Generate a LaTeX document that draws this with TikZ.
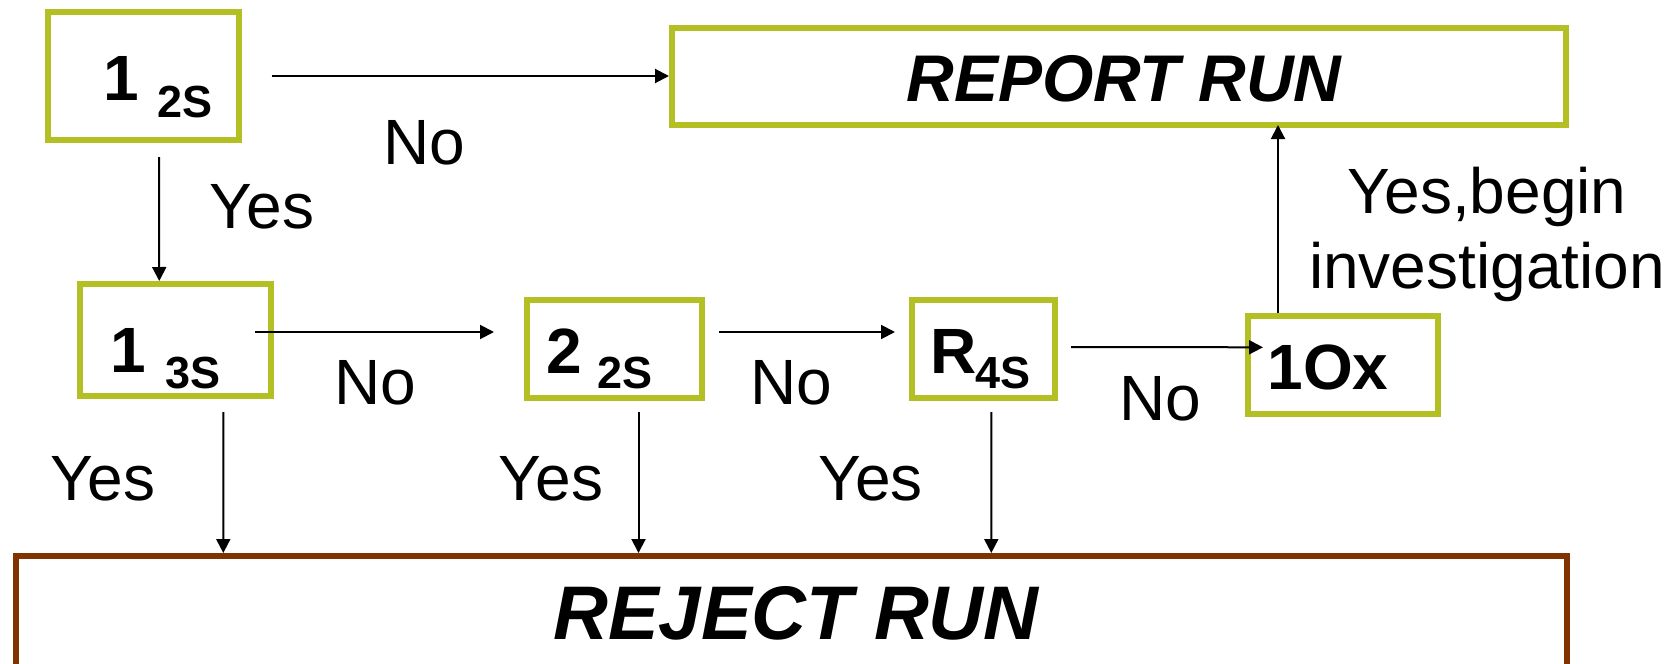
\documentclass[tikz,border=0pt]{standalone}
\usepackage{fontspec}
\setmainfont{Liberation Sans}
\usetikzlibrary{arrows.meta}
\definecolor{boxgreen}{RGB}{179,191,34}
\definecolor{rejbrown}{RGB}{128,51,0}
\begin{document}
\begin{tikzpicture}[x=1pt,y=-1pt,
  gbox/.style={draw=boxgreen,line width=6pt,inner sep=0pt},
  rbox/.style={draw=rejbrown,line width=6pt,inner sep=0pt},
  lbl/.style={font=\fontsize{64}{75}\selectfont,inner sep=0pt,anchor=base},
  bignum/.style={font=\fontsize{64}{64}\selectfont\bfseries,inner sep=0pt,anchor=base},
  subnum/.style={font=\fontsize{45}{45}\selectfont\bfseries,inner sep=0pt,anchor=base},
  verdict/.style={font=\fontsize{#1}{#1}\selectfont\bfseries\itshape,inner sep=0pt,anchor=base},
  arr/.style={-{Triangle[length=14pt,width=14pt]},line width=2pt}]
\useasboundingbox (0,0) rectangle (1674,664);
\clip (0,0) rectangle (1674,664);

% rule boxes
\node[gbox,minimum width=191pt,minimum height=128pt] (a) at (143,76) {};
\node[gbox,minimum width=894pt,minimum height=97pt] (rep) at (1119,76.5) {};
\node[gbox,minimum width=191.5pt,minimum height=112pt] (b) at (175.25,340) {};
\node[gbox,minimum width=175pt,minimum height=98pt] (c) at (614.5,349) {};
\node[gbox,minimum width=142.5pt,minimum height=98pt] (d) at (983.25,349) {};
\node[gbox,minimum width=189.6pt,minimum height=97.7pt] (e) at (1342.8,364.8) {};
\node[rbox,minimum width=1551.4pt,minimum height=300pt] (rej) at (791.3,706) {};

% box texts
\node[bignum] (a1) at (121,100) {1};
\node[subnum] (a2) at (185,117) {2S};
\node[bignum] (b1) at (128.5,372.7) {1};
\node[subnum] (b2) at (193,388) {3S};
\node[bignum] (c1) at (564,373) {2};
\node[subnum] (c2) at (625,388) {2S};
\node[bignum] (d1) at (954,373) {R};
\node[subnum] (d2) at (1003,388) {4S};
\node[bignum] (e1) at (1328,389.3) {1Ox};
\node[verdict=66] (rept) at (1124,101) {REPORT RUN};
\node[verdict=76] (rejt) at (796,639) {REJECT RUN};

% connectors
\draw[arr] ([xshift=30pt]a.east) -- (a.east -| rep.west);
\draw[arr] ([xshift=16pt,yshift=-14pt]a.south) -- ([xshift=-16pt]b.north);
\draw[arr] ([xshift=-19pt,yshift=8pt]b.east) -- ([xshift=-30pt,yshift=17pt]c.west);
\draw[arr] ([xshift=14pt,yshift=17pt]c.east) -- ([xshift=-14pt,yshift=17pt]d.west);
\draw[arr] ([xshift=13.5pt,yshift=2pt]d.east) -- ([xshift=18pt,yshift=17.5pt]e.west);
\draw[arr] ([xshift=-64.8pt]e.north) -- ([xshift=159pt,yshift=3pt]rep.south);
\draw[arr] ([xshift=48pt,yshift=-13pt]b.south) -- ([xshift=-568pt]rej.north);
\draw[arr] ([xshift=24pt,yshift=-11pt]c.south) -- ([xshift=-152.8pt]rej.north);
\draw[arr] ([xshift=8pt,yshift=-11pt]d.south) -- ([xshift=200pt]rej.north);

% connector labels
\node[lbl] (no1) at (424,164) {No};
\node[lbl] (yes1) at (262,228) {Yes};
\node[lbl] (no2) at (375.5,404) {No};
\node[lbl] (no3) at (791,404) {No};
\node[lbl] (no4) at (1160,420) {No};
\node[lbl] (yes2) at (103,500) {Yes};
\node[lbl] (yes3) at (551,500) {Yes};
\node[lbl] (yes4) at (870.5,500) {Yes};
\node[lbl,align=center] (yesinv) at (1487,288) {Yes,begin\\investigation};
\end{tikzpicture}
\end{document}
